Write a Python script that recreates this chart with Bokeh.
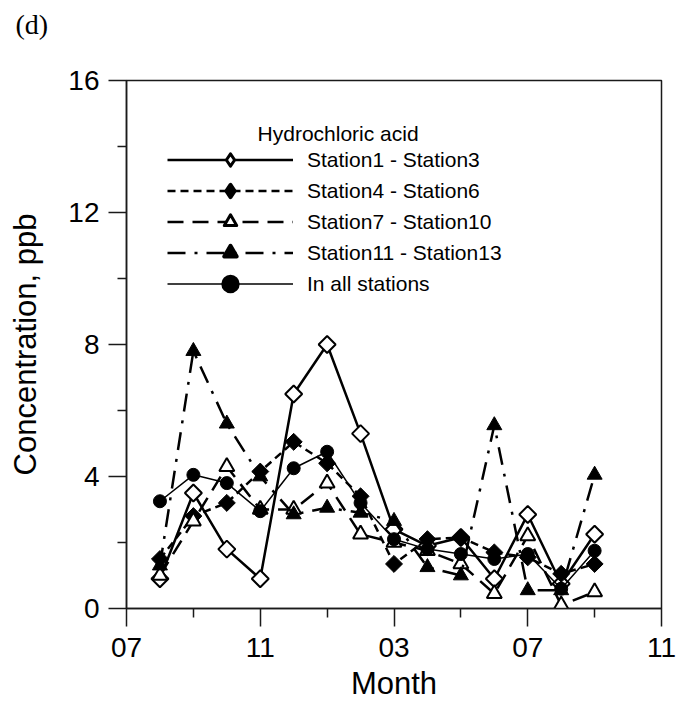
from bokeh.plotting import figure
from bokeh.models import Range1d, FixedTicker, Legend, LegendItem, Label
from bokeh.embed import file_html
from bokeh.resources import INLINE
import numpy as np

# Month index: 0 = July of the first year, sampled monthly from August to September
month_index = list(range(1, 15))
tick_positions = [0, 4, 8, 12, 16]
tick_labels = ["07", "11", "03", "07", "11"]
minor_positions = [2, 6, 10, 14]
conc_ticks = [0, 4, 8, 12, 16]
conc_minor = [2, 6, 10, 14]

# Hydrochloric acid concentrations (ppb) per station group
station1_3 = [0.9, 3.5, 1.8, 0.9, 6.5, 8.0, 5.3, 2.4, 1.9, 2.15, 0.9, 2.85, 0.75, 2.25]
station4_6 = [1.5, 2.8, 3.2, 4.15, 5.05, 4.4, 3.4, 1.35, 2.1, 2.15, 1.7, 1.55, 1.05, 1.35]
station7_10 = [1.0, 2.65, 4.3, 3.0, 3.0, 3.8, 2.25, 2.0, 1.75, 1.35, 0.45, 2.2, 0.1, 0.5]
station11_13 = [1.3, 7.8, 5.6, 4.0, 2.85, 3.05, 2.9, 2.65, 1.25, 1.0, 5.55, 0.55, 0.55, 4.05]
all_stations = [3.25, 4.05, 3.8, 2.95, 4.25, 4.75, 3.2, 2.1, 1.8, 1.65, 1.5, 1.65, 0.6, 1.75]

FONT = "Liberation Sans"

p = figure(width=680, height=711, output_backend="svg", toolbar_location=None,
           x_range=Range1d(0, 16), y_range=Range1d(0, 16),
           min_border_left=126, min_border_right=19, min_border_top=79,
           min_border_bottom=103)
p.background_fill_color = "white"
p.border_fill_color = "white"
p.outline_line_color = "#1a1a1a"
p.outline_line_width = 1.5
p.xgrid.visible = False
p.ygrid.visible = False

# Panel tag in the top-left corner; the trailing blank line lifts it up
# within the top border
p.title.text = "(d)\n"
p.title.text_font = "Liberation Serif"
p.title.text_font_size = "28px"
p.title.text_font_style = "normal"
p.title.text_color = "black"
p.title.align = "left"
p.title.offset = -111
p.title.standoff = 16
p.title.vertical_align = "top"

p.xaxis.ticker = FixedTicker(ticks=tick_positions, minor_ticks=minor_positions)
p.xaxis.major_label_overrides = {t: l for t, l in zip(tick_positions, tick_labels)}
p.yaxis.ticker = FixedTicker(ticks=conc_ticks, minor_ticks=conc_minor)
p.xaxis.axis_label = "Month"
p.yaxis.axis_label = "Concentration, ppb"

for ax in (p.xaxis[0], p.yaxis[0]):
    ax.axis_line_color = "#1a1a1a"
    ax.axis_line_width = 1.5
    ax.major_tick_line_color = "#1a1a1a"
    ax.major_tick_line_width = 1.5
    ax.minor_tick_line_color = "#1a1a1a"
    ax.minor_tick_line_width = 1.5
    ax.major_tick_in = 0
    ax.major_tick_out = 18
    ax.minor_tick_in = 0
    ax.minor_tick_out = 9
    ax.major_label_text_font = FONT
    ax.major_label_text_font_size = "28px"
    ax.major_label_text_color = "black"
    ax.axis_label_text_font = FONT
    ax.axis_label_text_font_size = "31px"
    ax.axis_label_text_font_style = "normal"
    ax.axis_label_text_color = "black"

p.xaxis.major_label_standoff = 11
p.xaxis.axis_label_standoff = 6
p.yaxis.major_label_standoff = 9
p.yaxis.axis_label_standoff = 22

diamond_angle = np.pi / 4

# Station1 - Station3: solid line, open diamonds
l1 = p.line(month_index, station1_3, line_color="black", line_width=2.5)
m1 = p.scatter(month_index, station1_3, marker="square", angle=diamond_angle, size=12,
               fill_color="white", line_color="black", line_width=2)

# Station4 - Station6: short dashes, filled diamonds
l2 = p.line(month_index, station4_6, line_color="black", line_width=2.5, line_dash="8 5")
m2 = p.scatter(month_index, station4_6, marker="square", angle=diamond_angle, size=12,
               fill_color="black", line_color="black", line_width=1)

# Station7 - Station10: long dashes, open triangles
l3 = p.line(month_index, station7_10, line_color="black", line_width=2.5, line_dash="16 9")
m3 = p.scatter(month_index, station7_10, marker="triangle", size=15,
               fill_color="white", line_color="black", line_width=2)

# Station11 - Station13: dash-dot, filled triangles
l4 = p.line(month_index, station11_13, line_color="black", line_width=2.5,
            line_dash="18 9 3 9")
m4 = p.scatter(month_index, station11_13, marker="triangle", size=15,
               fill_color="black", line_color="black", line_width=1)

# Mean of all stations: thin solid line, filled circles
l5 = p.line(month_index, all_stations, line_color="black", line_width=1.5)
m5 = p.scatter(month_index, all_stations, marker="circle", size=13,
               fill_color="black", line_color="black", line_width=1)

# Legend-only marker renderers: legend glyphs are never rotated and are sized
# from the row height, so thicker outlines bring them up to the plotted size
k1 = p.scatter(month_index, station1_3, marker="diamond", fill_color="white",
               line_color="black", line_width=3, line_join="round", visible=False)
k2 = p.scatter(month_index, station4_6, marker="diamond", fill_color="black",
               line_color="black", line_width=4, line_join="round", visible=False)
k3 = p.scatter(month_index, station7_10, marker="triangle", fill_color="white",
               line_color="black", line_width=3, line_join="round", visible=False)
k4 = p.scatter(month_index, station11_13, marker="triangle", fill_color="black",
               line_color="black", line_width=4, line_join="round", visible=False)
k5 = p.scatter(month_index, all_stations, marker="circle", fill_color="black",
               line_color="black", line_width=6, visible=False)

legend = Legend(items=[
    LegendItem(label="Station1 - Station3", renderers=[l1, k1]),
    LegendItem(label="Station4 - Station6", renderers=[l2, k2]),
    LegendItem(label="Station7 - Station10", renderers=[l3, k3]),
    LegendItem(label="Station11 - Station13", renderers=[l4, k4]),
    LegendItem(label="In all stations", renderers=[l5, k5]),
], location=(41, 309), glyph_width=126, glyph_height=31, spacing=0,
    label_standoff=14, padding=0, margin=0, border_line_color=None,
    background_fill_alpha=0, label_text_font=FONT, label_text_font_size="21px",
    label_text_color="black", label_height=31, click_policy="none")
p.add_layout(legend)

p.add_layout(Label(x=3.92, y=14.4, text="Hydrochloric acid", text_font=FONT,
                   text_font_size="21px", text_baseline="middle", text_color="black"))

open("out.html", "w").write(file_html(p, INLINE))
